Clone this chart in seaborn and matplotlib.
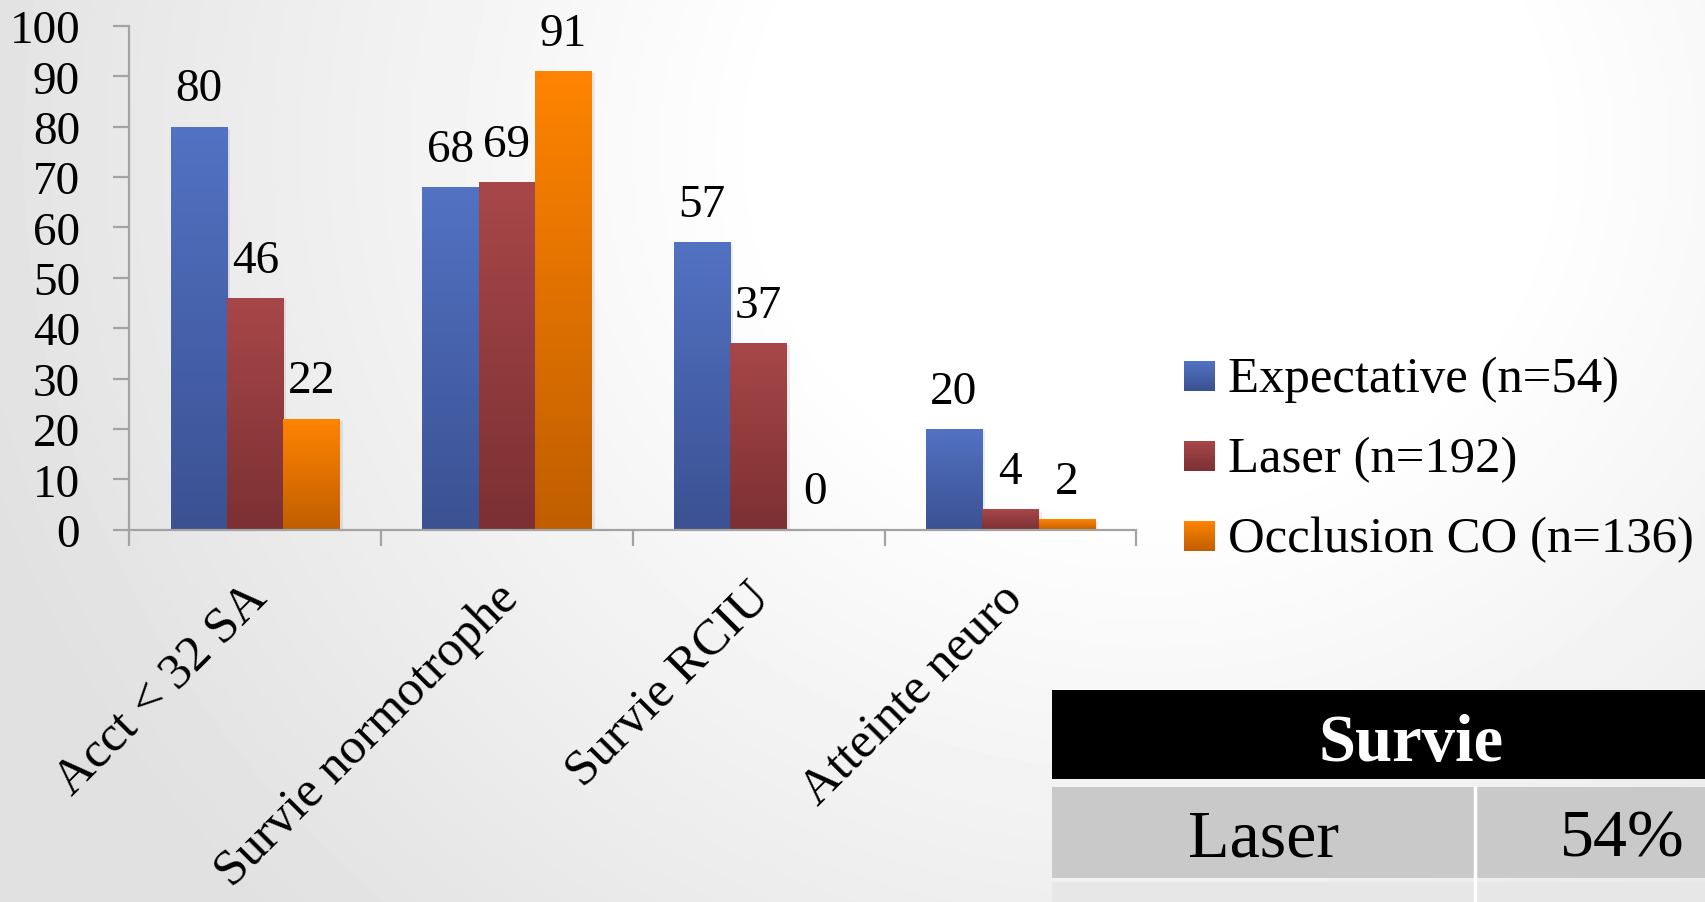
import numpy as np
import pandas as pd
import matplotlib
matplotlib.use("Agg")
import matplotlib.pyplot as plt
import matplotlib.transforms as mtransforms
from matplotlib.colors import LinearSegmentedColormap
from matplotlib.patches import Rectangle
import seaborn as sns

# ---- data ---------------------------------------------------------------
categories = ["Acct < 32 SA", "Survie normotrophe", "Survie RCIU", "Atteinte neuro"]
series = ["Expectative (n=54)", "Laser (n=192)", "Occlusion CO (n=136)"]
expectative = [80, 68, 57, 20]
laser = [46, 69, 37, 4]
occlusion = [22, 91, 0, 2]
y_ticks = [0, 10, 20, 30, 40, 50, 60, 70, 80, 90, 100]

table_title = "Survie"
table_row = ["Laser", "54%"]

# ---- style --------------------------------------------------------------
top_colors = ["#5272C3", "#A84749", "#FF8400"]
bottom_colors = ["#3B5192", "#7B3033", "#C05E00"]
axis_grey = "#A3A3A3"

W, H, DPI = 1705, 903, 100
sns.set_theme(style="white")
plt.rcParams["font.family"] = ["Liberation Serif", "DejaVu Serif"]
plt.rcParams["text.color"] = "black"

fig = plt.figure(figsize=(W / DPI, H / DPI), dpi=DPI)
fig.patch.set_facecolor("white")

# soft radial background
bg = fig.add_axes([0, 0, 1, 1], zorder=-10)
yy, xx = np.mgrid[0:H, 0:W]
dist = np.hypot(xx - 1150, (yy - 150) * 1.1)
shade = 1 - 0.12 * np.clip((dist - 380) / 850, 0, 1)
bg.imshow(shade, cmap="gray", vmin=0, vmax=1, extent=[0, W, H, 0],
          aspect="auto", interpolation="bilinear")
bg.set_xlim(0, W)
bg.set_ylim(H, 0)
bg.set_axis_off()

# ---- bar chart ----------------------------------------------------------
ax = fig.add_axes([129.4 / W, 1 - 530.7 / H, (1136.2 - 129.4) / W, (530.7 - 27) / H],
                  zorder=1)
ax.set_facecolor("none")

df = pd.DataFrame({
    "categorie": categories * 3,
    "valeur": expectative + laser + occlusion,
    "groupe": [s for s in series for _ in categories],
})
sns.barplot(data=df, x="categorie", y="valeur", hue="groupe",
            order=categories, hue_order=series,
            palette=dict(zip(series, top_colors)), saturation=1,
            width=0.672, linewidth=0, errorbar=None, legend=False, ax=ax)

grad = np.linspace(0, 1, 256).reshape(-1, 1)
values = [expectative, laser, occlusion]
for cont, top, bot, vals in zip(ax.containers, top_colors, bottom_colors, values):
    cmap = LinearSegmentedColormap.from_list("bar", [bot, top])
    for bar, v in zip(cont, vals):
        x0, w, h = bar.get_x(), bar.get_width(), bar.get_height()
        if h > 0:
            # faint drop shadow on the right side
            ax.add_patch(Rectangle((x0 + 0.012, -0.4), w, h, facecolor="black",
                                   alpha=0.07, linewidth=0, zorder=1.5))
            ax.imshow(grad, cmap=cmap, extent=[x0, x0 + w, 0, h], origin="lower",
                      aspect="auto", interpolation="bilinear", zorder=2)
        bar.set_visible(False)
        ax.annotate(f"{v}", (x0 + w / 2, v), xytext=(0, 19), textcoords="offset points",
                    ha="center", va="baseline", fontsize=34, zorder=4)

ax.set_xlim(-0.5, len(categories) - 0.5)
ax.set_ylim(0, 100)
ax.set_yticks(y_ticks)
ax.set_xlabel("")
ax.set_ylabel("")

for side in ("top", "right"):
    ax.spines[side].set_visible(False)
for side in ("left", "bottom"):
    ax.spines[side].set_color(axis_grey)
    ax.spines[side].set_linewidth(1.6)
    ax.spines[side].set_zorder(3)

ax.tick_params(axis="y", left=True, length=11.5, width=1.6, color=axis_grey,
               direction="out", pad=24, labelsize=34, labelcolor="black")
ax.set_xticks(np.arange(len(categories) + 1) - 0.5, minor=True)
ax.tick_params(axis="x", which="minor", bottom=True, length=11.5, width=1.6,
               color=axis_grey, direction="out")
ax.tick_params(axis="x", which="major", bottom=True, length=0, pad=50,
               labelsize=36.5, labelcolor="black")
ax.set_xticks(range(len(categories)))
ax.set_xticklabels(categories)
shift = mtransforms.Affine2D().translate(13, 0)
for lbl in ax.get_xticklabels():
    lbl.set_rotation(45)
    lbl.set_rotation_mode("anchor")
    lbl.set_ha("right")
    lbl.set_va("baseline")
    lbl.set_transform(lbl.get_transform() + shift)

# ---- legend and summary table (pixel coordinates) -----------------------
ov = fig.add_axes([0, 0, 1, 1], zorder=5)
ov.set_xlim(0, W)
ov.set_ylim(H, 0)
ov.set_axis_off()
ov.patch.set_alpha(0)

grad_down = np.linspace(1, 0, 128).reshape(-1, 1)
for i, (name, top, bot) in enumerate(zip(series, top_colors, bottom_colors)):
    y_top = 362.5 + i * 80
    cmap = LinearSegmentedColormap.from_list("leg", [bot, top])
    ov.imshow(grad_down, cmap=cmap, extent=[1184, 1214.5, y_top + 30, y_top],
              aspect="auto", interpolation="bilinear", zorder=2)
    ov.text(1228, y_top + 30, name, fontsize=36.5, ha="left", va="baseline")

tab_x0, tab_x1, col_split = 1051.5, 1770, 1474.5
ov.add_patch(Rectangle((tab_x0, 690.5), tab_x1 - tab_x0, 89.5, facecolor="black",
                       linewidth=0, zorder=1))
ov.add_patch(Rectangle((tab_x0, 788), tab_x1 - tab_x0, 91, facecolor="#C9C9C9",
                       linewidth=0, zorder=1))
ov.add_patch(Rectangle((tab_x0, 883), tab_x1 - tab_x0, 40, facecolor="#E7E7E7",
                       linewidth=0, zorder=1))
ov.plot([col_split, col_split], [788, 910], color="white", lw=2.5, zorder=2)
ov.text((tab_x0 + tab_x1) / 2, 761, table_title, color="white", fontsize=48,
        fontweight="bold", ha="center", va="baseline", zorder=3)
ov.text((tab_x0 + col_split) / 2, 857, table_row[0], fontsize=49,
        ha="center", va="baseline", zorder=3)
ov.text((col_split + tab_x1) / 2, 857, table_row[1], fontsize=49,
        ha="center", va="baseline", zorder=3)

fig.savefig("out.png", dpi=DPI)
